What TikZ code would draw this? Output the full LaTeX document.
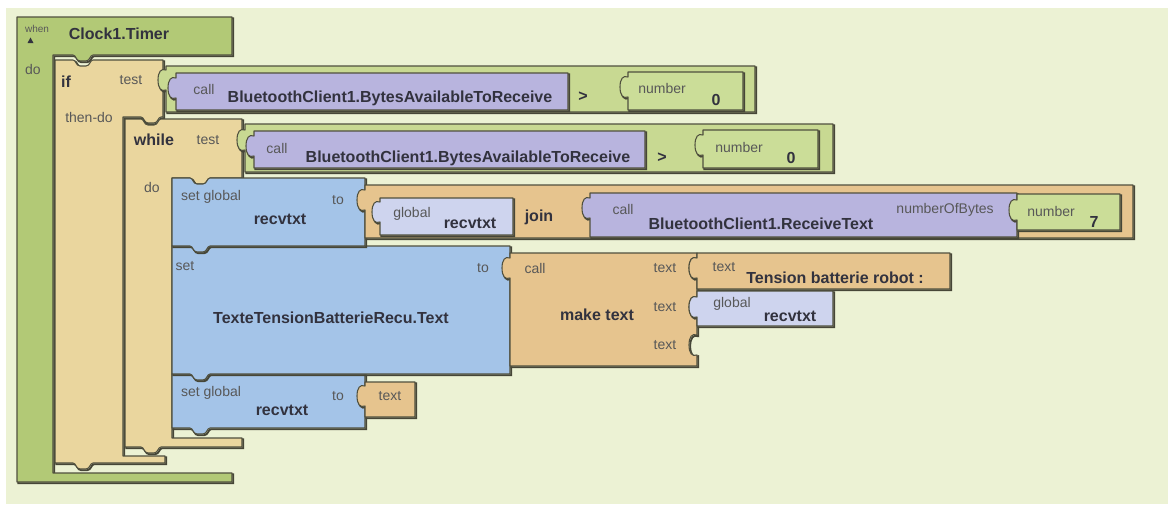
\documentclass[tikz,border=0pt]{standalone}
\usepackage{fontspec}
\setmainfont{Liberation Sans}
\definecolor{bgc}{RGB}{236,242,212}
\definecolor{whenc}{RGB}{178,201,118}
\definecolor{cmpc}{RGB}{200,217,146}
\definecolor{numc}{RGB}{203,221,152}
\definecolor{ctrlc}{RGB}{234,214,158}
\definecolor{txtc}{RGB}{230,196,142}
\definecolor{callc}{RGB}{184,180,222}
\definecolor{globc}{RGB}{206,212,238}
\definecolor{setc}{RGB}{164,196,232}
\definecolor{edgec}{RGB}{80,80,62}
\definecolor{shadc}{RGB}{70,70,55}
\definecolor{lblc}{RGB}{88,88,88}
\definecolor{boldc}{RGB}{50,50,62}
\newcommand\TopN[2]{-- (#1,#2) .. controls (#1+3,#2) and (#1+3,#2+6) .. (#1+7,#2+6) -- (#1+13,#2+6) .. controls (#1+17,#2+6) and (#1+17,#2) .. (#1+20,#2)}
\newcommand\BotT[2]{-- (#1+20,#2) .. controls (#1+17,#2) and (#1+17,#2+6) .. (#1+13,#2+6) -- (#1+7,#2+6) .. controls (#1+3,#2+6) and (#1+3,#2) .. (#1,#2)}
\newcommand\PlugL[2]{-- (#1,#2+10) .. controls (#1-5,#2+12) and (#1-8,#2+8) .. (#1-8,#2) .. controls (#1-8,#2-8) and (#1-5,#2-12) .. (#1,#2-10)}
\newcommand\SockR[2]{-- (#1,#2-10) .. controls (#1-5,#2-12) and (#1-8,#2-8) .. (#1-8,#2) .. controls (#1-8,#2+8) and (#1-5,#2+12) .. (#1,#2+10)}
\tikzset{
  blk/.style={draw=edgec, line width=0.8pt, line join=round,
    preaction={draw=shadc, line width=1.4pt, transform canvas={shift={(0.9pt,-0.9pt)}}}},
  lbl/.style={inner sep=0pt, text=lblc, font=\fontsize{10.5}{12}\selectfont},
  big/.style={inner sep=0pt, text=boldc, font=\bfseries\fontsize{12}{14}\selectfont},
}
\begin{document}
\begin{tikzpicture}[x=0.75pt,y=-0.75pt]
\useasboundingbox (0,0) rectangle (1168,504);
\fill[white] (0,0) rectangle (1168,504);
\fill[bgc] (6,8) rectangle (1168,504);

% when Clock1.Timer
\path[blk,fill=whenc] (17,17) -- (232,17) -- (232,55) \BotT{73}{55} -- (53,55) -- (53,473) -- (232,473) -- (232,482) -- (17,482) -- cycle;
% if
\path[blk,fill=ctrlc] (55,60) \TopN{73}{60} -- (163,60) -- (163,117) \BotT{141}{117} -- (123,117) -- (123,456) -- (165,456) -- (165,463) \BotT{73}{463} -- (55,463) -- cycle;
% while
\path[blk,fill=ctrlc] (125,119) \TopN{141}{119} -- (242,119) -- (242,178) \BotT{190}{178} -- (172,178) -- (172,438) -- (242,438) -- (242,447) \BotT{141}{447} -- (125,447) -- cycle;
% set blocks
\path[blk,fill=setc] (172,374) \TopN{190}{374} -- (365,374) -- (365,428) \BotT{190}{428} -- (172,428) -- cycle;
\path[blk,fill=setc] (172,246) \TopN{190}{246} -- (510,246) -- (510,374) \BotT{190}{374} -- (172,374) -- cycle;
\path[blk,fill=setc] (172,178) \TopN{190}{178} -- (365,178) -- (365,246) \BotT{190}{246} -- (172,246) -- cycle;

% if test
\path[blk,fill=cmpc] (166,66) -- (755,66) -- (755,112) -- (166,112) \PlugL{166}{80} -- cycle;
\path[blk,fill=callc] (176,73) -- (568,73) -- (568,110) -- (176,110) \PlugL{176}{88} -- cycle;
\path[blk,fill=numc] (628,72) -- (743,72) -- (743,110) -- (628,110) \PlugL{628}{87} -- cycle;
% while test
\path[blk,fill=cmpc] (245,124) -- (833,124) -- (833,172) -- (245,172) \PlugL{245}{140} -- cycle;
\path[blk,fill=callc] (254,131) -- (645,131) -- (645,168) -- (254,168) \PlugL{254}{146} -- cycle;
\path[blk,fill=numc] (703,130) -- (818,130) -- (818,168) -- (703,168) \PlugL{703}{145} -- cycle;
% join
\path[blk,fill=txtc] (365,185) -- (1133,185) -- (1133,238) -- (365,238) \PlugL{365}{200} -- cycle;
\path[blk,fill=globc] (380,198) -- (513,198) -- (513,235) -- (380,235) \PlugL{380}{212} -- cycle;
\path[blk,fill=callc] (590,193) -- (1017,193) -- (1017,237) -- (590,237) \PlugL{590}{208} -- cycle;
\path[blk,fill=numc] (1017,194) -- (1120,194) -- (1120,230) -- (1017,230) \PlugL{1017}{210} -- cycle;
% make text
\path[blk,fill=txtc] (510,253) -- (697,253) \SockR{697}{268} \SockR{697}{307} \SockR{697}{345} -- (697,366) -- (510,366) \PlugL{510}{268} -- cycle;
\path[blk,fill=txtc] (697,253) -- (950,253) -- (950,289) -- (697,289) \PlugL{697}{268} -- cycle;
\path[blk,fill=globc] (697,291) -- (833,291) -- (833,326) -- (697,326) \PlugL{697}{307} -- cycle;
% text block
\path[blk,fill=txtc] (365,382) -- (415,382) -- (415,417) -- (365,417) \PlugL{365}{396} -- cycle;

% labels: when block
\node[lbl,font=\fontsize{7.5}{9}\selectfont] (whenl) at (37,29) {when};
\fill[boldc] (27.5,43) -- (33.5,43) -- (30.5,37.5) -- cycle;
\node[big] (clock) at (119,34) {Clock1.Timer};
\node[lbl] (dol) at (33,69) {do};
% if
\node[big] (ifl) at (66,82) {if};
\node[lbl] (iftest) at (131,80) {test};
\node[lbl] (thendo) at (89,117) {then-do};
\node[lbl] (call1) at (204,89) {call};
\node[big] (bt1) at (390,98) {BluetoothClient1.BytesAvailableToReceive};
\node[big] (gt1) at (583,97) {>};
\node[lbl] (num1) at (662,88) {number};
\node[big] (zero1) at (716,100) {0};
% while
\node[big] (whilel) at (154,140) {while};
\node[lbl] (wtest) at (208,140) {test};
\node[lbl] (wdo) at (152,187) {do};
\node[lbl] (call2) at (277,148) {call};
\node[big] (bt2) at (468,158) {BluetoothClient1.BytesAvailableToReceive};
\node[big] (gt2) at (662,158) {>};
\node[lbl] (num2) at (739,147) {number};
\node[big] (zero2) at (791,158) {0};
% set global recvtxt to join
\node[lbl] (sg1) at (211,197) {set global};
\node[big] (rv1) at (280,219) {recvtxt};
\node[lbl] (to1) at (338,200) {to};
\node[lbl] (gl1) at (412,214) {global};
\node[big] (rv2) at (470,223) {recvtxt};
\node[big] (joinl) at (539,217) {join};
\node[lbl] (call3) at (623,209) {call};
\node[big] (rt) at (761,224) {BluetoothClient1.ReceiveText};
\node[lbl,anchor=east] (nob) at (994,210) {numberOfBytes};
\node[lbl] (num3) at (1051,211) {number};
\node[big] (seven) at (1094,222) {7};
% set TexteTension...
\node[lbl] (setl) at (185,266) {set};
\node[big] (tt) at (331,318) {TexteTensionBatterieRecu.Text};
\node[lbl] (to2) at (483,268) {to};
\node[lbl] (call4) at (535,268) {call};
\node[big] (mk) at (597,315) {make text};
\node[lbl] (tx1) at (665,268) {text};
\node[lbl] (tx2) at (665,307) {text};
\node[lbl] (tx3) at (665,345) {text};
\node[lbl] (tx4) at (724,267) {text};
\node[big] (tens) at (835,278) {Tension batterie robot :};
\node[lbl] (gl2) at (732,304) {global};
\node[big] (rv3) at (790,316) {recvtxt};
% set global recvtxt to text
\node[lbl] (sg2) at (211,393) {set global};
\node[big] (rv4) at (282,410) {recvtxt};
\node[lbl] (to3) at (338,396) {to};
\node[lbl] (tx5) at (390,396) {text};
\end{tikzpicture}
\end{document}
